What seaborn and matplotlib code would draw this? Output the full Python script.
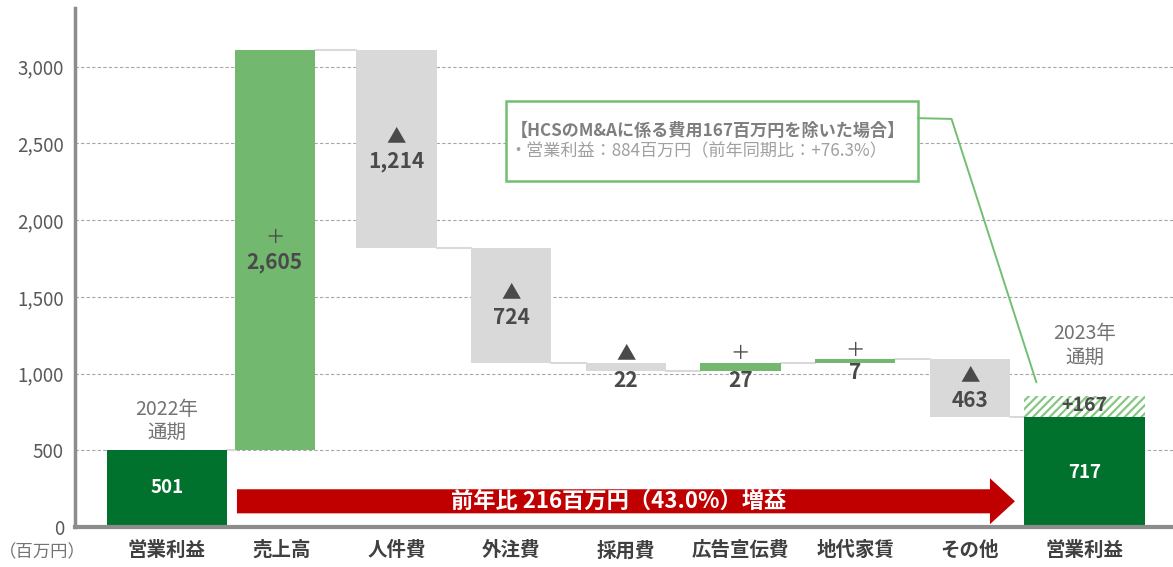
import numpy as np
import pandas as pd
import matplotlib
matplotlib.use("Agg")
import matplotlib.pyplot as plt
import seaborn as sns
from matplotlib.patches import Rectangle, Polygon

# ---------------- data ----------------
categories = ["営業利益", "売上高", "人件費", "外注費", "採用費", "広告宣伝費", "地代家賃", "その他", "営業利益"]
value_labels = ["501", "2,605", "1,214", "724", "22", "27", "7", "463", "717"]
signs = ["", "＋", "▲", "▲", "▲", "＋", "＋", "▲", ""]
kinds = ["total", "up", "down", "down", "down", "up", "up", "down", "total"]
# bar extents as drawn in the reference chart
bar_bottoms = [0, 501, 1818, 1070, 1016, 1016, 1070, 717, 0]
bar_tops = [501, 3106, 3106, 1818, 1070, 1070, 1092, 1092, 717]
end_levels = [501, 3106, 1818, 1070, 1016, 1070, 1092, 717]
adjust_top = 855
adjust_label = "+167"
period_labels = ["2022年\n通期", "2023年\n通期"]
yticks = [0, 500, 1000, 1500, 2000, 2500, 3000]
ytick_labels = ["0", "500", "1,000", "1,500", "2,000", "2,500", "3,000"]
arrow_text = "前年比 216百万円（43.0%）増益"
box_title = "【HCSのM&Aに係る費用167百万円を除いた場合】"
box_body = "・営業利益：884百万円（前年同期比：+76.3%）"
unit_label = "（百万円）"

# ---------------- style ----------------
sns.set_style("white")
plt.rcParams["font.family"] = ["Noto Sans CJK JP", "DejaVu Sans"]
plt.rcParams["hatch.linewidth"] = 1.6

DARK_GREEN = "#00722e"
LIGHT_GREEN = "#72b96f"
GRAY_BAR = "#d9d9d9"
TXT = "#4a4a4a"
kind_color = {"total": DARK_GREEN, "up": LIGHT_GREEN, "down": GRAY_BAR}

fig = plt.figure(figsize=(11.73, 5.67), dpi=100)
ax = fig.add_axes([75 / 1173, 1 - 527 / 567, 1 - 75 / 1173, (527 - 8) / 567])

keys = [f"k{i}" for i in range(len(categories))]
df = pd.DataFrame({
    "key": keys,
    "height": np.array(bar_tops) - np.array(bar_bottoms),
    "kind": kinds,
})
palette = {k: kind_color[c] for k, c in zip(keys, kinds)}
sns.barplot(data=df, x="key", y="height", hue="key", order=keys, hue_order=keys,
            palette=palette, width=0.70, saturation=1, errorbar=None,
            legend=False, ax=ax, zorder=3, linewidth=0)

patches = sorted(ax.patches, key=lambda p: p.get_x())
for i, (p, b) in enumerate(zip(patches, bar_bottoms)):
    p.set_y(b)
    if kinds[i] == "total":
        p.set_width(1.05)
        p.set_x(i - 0.525)
# the sales bar sits slightly left of its slot in the reference
patches[1].set_x(patches[1].get_x() - 0.06)

# connectors
for i, lvl in enumerate(end_levels):
    x0 = patches[i].get_x() + patches[i].get_width()
    x1 = patches[i + 1].get_x()
    ax.plot([x0, x1], [lvl, lvl], color="#d9d9d9", lw=1.5, zorder=2)

# hatched adjustment bar on final
last = patches[-1]
ax.add_patch(Rectangle((last.get_x(), bar_tops[-1]), last.get_width(), adjust_top - bar_tops[-1],
                       facecolor="white", edgecolor="#86c784", hatch="////", linewidth=0, zorder=3))
ax.text(8, (bar_tops[-1] + adjust_top) / 2 + 8, adjust_label, ha="center", va="center",
        fontsize=14, fontweight="bold", color=TXT, zorder=5)

# axes
ax.set_xlim(-0.802, 8.771)
ax.set_ylim(0, 3383)
ax.set_yticks(yticks)
ax.set_yticklabels(ytick_labels)
ax.set_xticks(range(len(categories)))
ax.set_xticklabels(categories, fontweight="bold")
ax.set_xlabel("")
ax.set_ylabel("")
ax.tick_params(axis="y", length=0, pad=8, labelsize=13.5, labelcolor="#595959")
ax.tick_params(axis="x", length=0, pad=10, labelsize=14, labelcolor="#404040")
ax.set_axisbelow(True)
ax.yaxis.grid(True, linestyle=(0, (3, 2)), color="#a6a6a6", lw=0.8, zorder=0)
ax.xaxis.grid(False)
for s in ["top", "right"]:
    ax.spines[s].set_visible(False)
ax.spines["left"].set_color("#8c8c8c")
ax.spines["left"].set_linewidth(2.5)
ax.spines["bottom"].set_color("#8c8c8c")
ax.spines["bottom"].set_linewidth(3)
ax.spines["left"].set_zorder(6)
ax.spines["bottom"].set_zorder(6)

# value labels
for i in range(len(categories)):
    b, t = bar_bottoms[i], bar_tops[i]
    cx = patches[i].get_x() + patches[i].get_width() / 2
    if kinds[i] == "total":
        ax.text(cx, t * 0.5 + (8 if i == 0 else 0), value_labels[i], ha="center", va="center",
                fontsize=13.5, fontweight="bold", color="white", zorder=5)
    elif t - b > 200:
        mid = (b + t) / 2
        ax.text(cx, mid + 82, signs[i], ha="center", va="center", fontsize=14,
                color=TXT, zorder=5)
        ax.text(cx, mid - 78, value_labels[i], ha="center", va="center", fontsize=15,
                fontweight="bold", color=TXT, zorder=5)
    else:
        ax.text(cx, t + 60, signs[i], ha="center", va="center", fontsize=14,
                color=TXT, zorder=5)
        ax.text(cx, b - 60, value_labels[i], ha="center", va="center", fontsize=15,
                fontweight="bold", color=TXT, zorder=5)

# period labels
ax.text(0, 690, period_labels[0], ha="center", va="center", fontsize=14,
        color="#737373", linespacing=1.15)
ax.text(8, 1185, period_labels[1], ha="center", va="center", fontsize=14,
        color="#737373", linespacing=1.15)

# red arrow
tail, head_base, tip = 0.61, 7.175, 7.393
sh_lo, sh_hi, hd_lo, hd_hi = 89, 246, 18, 318
ax.add_patch(Polygon([(tail, sh_lo), (head_base, sh_lo), (head_base, hd_lo), (tip, (sh_lo + sh_hi) / 2),
                      (head_base, hd_hi), (head_base, sh_hi), (tail, sh_hi)],
                     closed=True, facecolor="#c00000", edgecolor="none", zorder=4))
ax.text(3.94, (sh_lo + sh_hi) / 2, arrow_text, ha="center", va="center", fontsize=16,
        fontweight="bold", color="white", zorder=5)

# annotation box
bx0, bx1, by0, by1 = 2.955, 6.548, 2255, 2776
ax.add_patch(Rectangle((bx0, by0), bx1 - bx0, by1 - by0, facecolor="white",
                       edgecolor="#72bf72", linewidth=1.8, zorder=4))
ax.text(3.0, 2580, box_title, ha="left", va="center", fontsize=12.3, fontweight="bold",
        color="#7f7f7f", zorder=5)
ax.text(2.98, 2450, box_body, ha="left", va="center", fontsize=12.3,
        color="#a0a0a0", zorder=5)
ax.plot([bx1, 6.84, 7.58], [2665, 2660, 943], color="#72bf72", lw=1.4, zorder=4)

fig.text(42 / 1173, 1 - 552 / 567, unit_label, ha="center", va="center", fontsize=12.5,
         color="#737373")

fig.savefig("out.png", dpi=100)
